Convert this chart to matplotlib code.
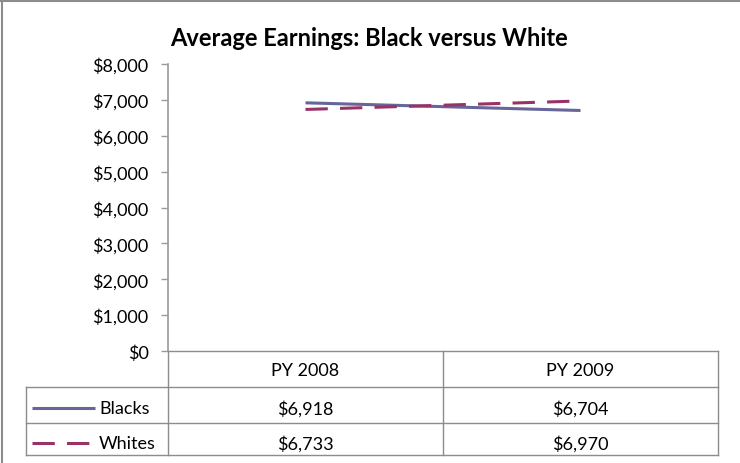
import matplotlib
matplotlib.use('Agg')
import matplotlib.pyplot as plt
from matplotlib.lines import Line2D
from matplotlib.transforms import blended_transform_factory

# Data
periods = ['PY 2008', 'PY 2009']
blacks = [6918, 6704]
whites = [6733, 6970]
series_names = ['Blacks', 'Whites']
y_ticks = [0, 1000, 2000, 3000, 4000, 5000, 6000, 7000, 8000]

W, H = 740, 464
plt.rcParams['font.family'] = ['Lato', 'DejaVu Sans']

fig = plt.figure(figsize=(W / 100, H / 100), dpi=100)


def fx(x):
    return x / W


def fy(y):
    return 1 - y / H


# plot area in pixels (from top-left)
left, right, top, bottom = 168, 718, 65, 352
ax = fig.add_axes([fx(left), fy(bottom), (right - left) / W, (bottom - top) / H])

blue = '#666699'
plum = '#993366'
grid_gray = '#8c8c8c'
lw = 2.2

series = [blacks, whites]
styles = [dict(color=blue, linestyle='-'),
          dict(color=plum, linestyle=(0, (7.3, 4)))]

xs = list(range(len(periods)))
for vals, st in zip(series, styles):
    ax.plot(xs, vals, linewidth=lw, solid_capstyle='butt', **st)

ax.set_xlim(-0.5, len(periods) - 0.5)
ax.set_ylim(0, 8000)
ax.set_xticks([])
ax.set_yticks(y_ticks)
ax.set_yticklabels([f'${v:,.0f}' for v in y_ticks])
ax.tick_params(axis='y', length=5, width=1, color='#9a9a9a', pad=9,
               labelsize=13, labelcolor='black')
for s in ['top', 'right']:
    ax.spines[s].set_visible(False)
ax.spines['left'].set_color('#9a9a9a')
ax.spines['left'].set_linewidth(1.2)
ax.spines['bottom'].set_color(grid_gray)
ax.spines['bottom'].set_linewidth(1)

# Data table below the plot
row_tops = [352, 388, 424, 456]
legend_left = 26
bt = blended_transform_factory(ax.transData, fig.transFigure)
col_bounds = [i - 0.5 for i in range(len(periods) + 1)]

# horizontal lines
for yb in row_tops[1:]:
    fig.add_artist(Line2D([fx(legend_left), fx(right)], [fy(yb), fy(yb)],
                          color=grid_gray, linewidth=1))
# vertical lines
fig.add_artist(Line2D([fx(legend_left), fx(legend_left)], [fy(row_tops[1]), fy(row_tops[-1])],
                      color=grid_gray, linewidth=1))
for cb in col_bounds:
    fig.add_artist(Line2D([cb, cb], [fy(row_tops[0]), fy(row_tops[-1])],
                          transform=bt, color=grid_gray, linewidth=1))

# header
for i, p in enumerate(periods):
    fig.text(i, fy(371), p, transform=bt, ha='center', va='center', fontsize=13)

# rows
row_y = [409, 444]
for r, (name, vals, st) in enumerate(zip(series_names, series, styles)):
    y = fy(row_y[r])
    for i, v in enumerate(vals):
        fig.text(i, y, f'${v:,.0f}', transform=bt, ha='center', va='center', fontsize=13)
    x_end = 95 if r == 0 else 89
    fig.add_artist(Line2D([fx(32), fx(x_end)], [y, y], linewidth=lw,
                          solid_capstyle='butt', **st))
    fig.text(fx(99), y, name, ha='left', va='center', fontsize=13)

# title
fig.text(fx(369), fy(39), 'Average Earnings: Black versus White',
         ha='center', va='center', fontsize=17, fontweight='bold')

# chart frame (top and left edges visible)
fig.add_artist(Line2D([0, 1], [fy(2), fy(2)], color=grid_gray, linewidth=1.5))
fig.add_artist(Line2D([fx(2), fx(2)], [0, 1], color=grid_gray, linewidth=1.5))

fig.savefig('out.png', dpi=100)
